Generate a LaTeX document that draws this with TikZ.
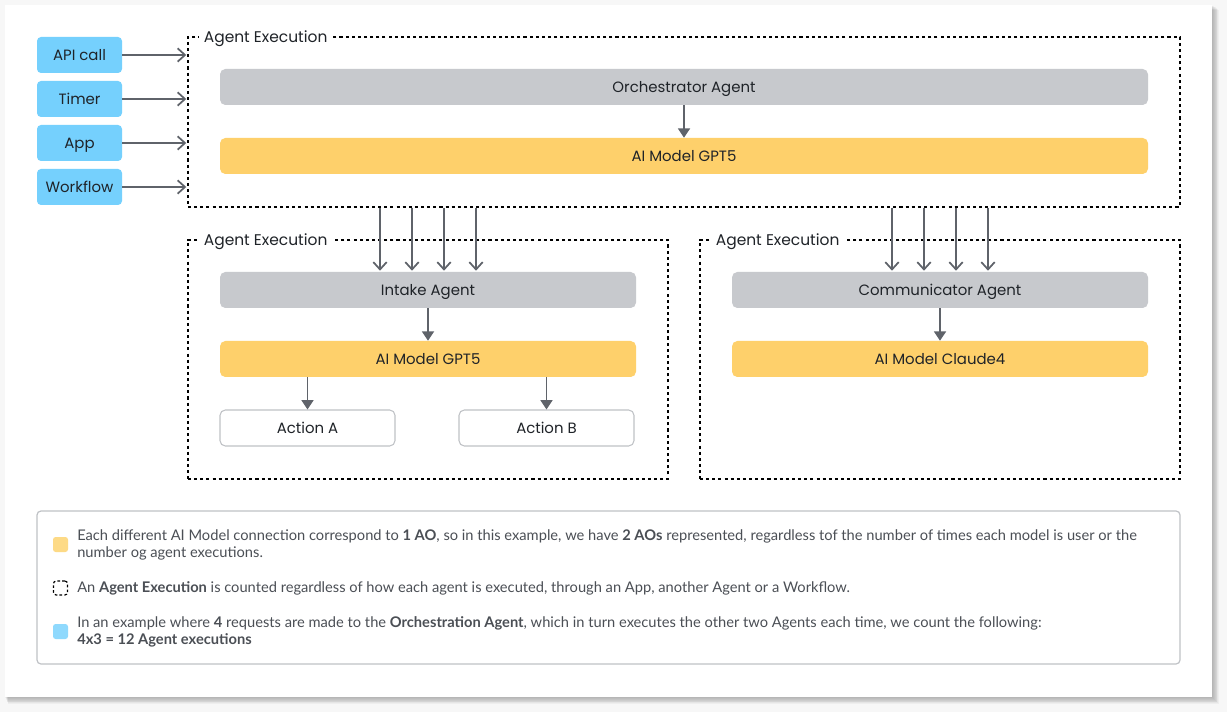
\documentclass[tikz,border=0pt]{standalone}
\usepackage{fontspec}
\setmainfont{Poppins}
\newfontfamily\notefont{Lato}
\usetikzlibrary{arrows.meta,positioning,calc}

\definecolor{srcblue}{HTML}{75D0FD}
\definecolor{agentgray}{HTML}{C7C9CD}
\definecolor{modelyellow}{HTML}{FED06B}
\definecolor{arrowgray}{HTML}{5F636A}
\definecolor{inkgray}{HTML}{1F2328}
\definecolor{notegray}{HTML}{4B4F55}
\definecolor{framegray}{HTML}{BFC2C6}
\definecolor{keyyellow}{HTML}{FDDA86}
\definecolor{keyblue}{HTML}{8FD9FD}

\tikzset{
  srcbox/.style={fill=srcblue, rounded corners=3pt, minimum width=63.75pt, minimum height=27pt, inner sep=0pt, text depth=0pt, text=inkgray, font=\fontsize{11.2}{13}\selectfont},
  agentbar/.style={fill=agentgray, rounded corners=4pt, minimum height=27pt, inner sep=0pt, text depth=0pt, text=inkgray, font=\fontsize{11.2}{13}\selectfont},
  modelbar/.style={agentbar, fill=modelyellow},
  actionbox/.style={agentbar, fill=white, draw=framegray, line width=0.8pt, minimum width=131.25pt},
  execbox/.style={draw=black, line width=1.1pt, dash pattern=on 2.3pt off 2.3pt, inner sep=0pt},
  execlabel/.style={fill=white, inner xsep=4pt, inner ysep=3pt, text depth=0pt, anchor=west, text=inkgray, font=\fontsize{11.6}{13}\selectfont},
  inarrow/.style={draw=arrowgray, line width=1.3pt, -{Straight Barb[length=5.5pt, width=10pt, line width=1.3pt]}},
  callarrow/.style={draw=arrowgray, line width=1.3pt, -{Triangle[length=7pt, width=9pt]}},
  keymark/.style={minimum size=11.25pt, inner sep=0pt, rounded corners=2pt},
  keytext/.style={anchor=west, inner sep=0pt, align=left, text=notegray, font=\notefont\fontsize{11}{12.75}\selectfont}
}

\begin{document}
\begin{tikzpicture}[x=0.75pt, y=-0.75pt]
  \useasboundingbox (0,0) rectangle (1227,712);
  \fill[white!97!black] (0,0) rectangle (1227,712);
  % card with shadow
  \foreach \s in {1,...,8}
    \fill[black, opacity=0.035] (5+\s*0.4,5+\s*0.6) rectangle (1212+\s*0.9,697+\s*0.9);
  \fill[white] (5,5) rectangle (1212,697);

  % triggers
  \node[srcbox] (api) at (79.5,55) {API call};
  \node[srcbox] (timer) at (79.5,99) {Timer};
  \node[srcbox] (app) at (79.5,143) {App};
  \node[srcbox] (workflow) at (79.5,187) {Workflow};

  % agent executions
  \node[execbox, minimum width=744pt, minimum height=127.5pt] (exec0) at (684,122) {};
  \node[execbox, minimum width=360pt, minimum height=179.25pt] (exec1) at (428,359.5) {};
  \node[execbox, minimum width=360pt, minimum height=179.25pt] (exec2) at (940,359.5) {};
  \node[execlabel] (lab0) at ($(exec0.north west)+(11,0)$) {Agent Execution};
  \node[execlabel] (lab1) at ($(exec1.north west)+(11,0)$) {Agent Execution};
  \node[execlabel] (lab2) at ($(exec2.north west)+(11,0)$) {Agent Execution};

  \node[agentbar, minimum width=696pt] (orch) at (684,87) {Orchestrator Agent};
  \node[modelbar, minimum width=696pt] (gpt0) at (684,156) {AI Model GPT5};

  \node[agentbar, minimum width=312pt] (intake) at (428,290) {Intake Agent};
  \node[modelbar, minimum width=312pt] (gpt1) at (428,359) {AI Model GPT5};
  \node[actionbox] (actA) at (307.5,428) {Action A};
  \node[actionbox] (actB) at (546.5,428) {Action B};

  \node[agentbar, minimum width=312pt] (comm) at (940,290) {Communicator Agent};
  \node[modelbar, minimum width=312pt] (claude) at (940,359) {AI Model Claude4};

  % connectors
  \foreach \src in {api,timer,app,workflow}
    \draw[inarrow] (\src.east) -- ($(\src -| exec0.west)+(-1,0)$);
  \foreach \dx in {-48,-16,16,48} {
    \draw[inarrow] ($(exec0.south -| intake.north)+(\dx,0)$) -- ($(intake.north)+(\dx,-1)$);
    \draw[inarrow] ($(exec0.south -| comm.north)+(\dx,0)$) -- ($(comm.north)+(\dx,-1)$);
  }
  \draw[callarrow] (orch) -- (gpt0);
  \draw[callarrow] (intake) -- (gpt1);
  \draw[callarrow] (comm) -- (claude);
  \draw[callarrow] (gpt1.south -| actA.north) -- (actA.north);
  \draw[callarrow] (gpt1.south -| actB.north) -- (actB.north);

  % legend
  \node[draw=framegray, line width=0.9pt, rounded corners=3pt, minimum width=857.25pt, minimum height=114.75pt] (legend) at (608.5,587.5) {};
  \node[keymark, fill=keyyellow] (key1) at (60.5,544.5) {};
  \node[keymark, draw=black, line width=0.9pt, dash pattern=on 2pt off 1.6pt, minimum size=10.5pt] (key2) at (60.5,588) {};
  \node[keymark, fill=keyblue] (key3) at (60.5,631.5) {};
  \node[keytext] (note1) at (77,545) {Each different AI Model connection correspond to \textbf{1 AO}, so in this example, we have \textbf{2 AOs} represented, regardless tof the number of times each model is user or the\\number og agent executions.};
  \node[keytext] (note2) at (77,588.5) {An \textbf{Agent Execution} is counted regardless of how each agent is executed, through an App, another Agent or a Workflow.};
  \node[keytext] (note3) at (77,632) {In an example where \textbf{4} requests are made to the \textbf{Orchestration Agent}, which in turn executes the other two Agents each time, we count the following:\\\textbf{4x3 = 12 Agent executions}};
\end{tikzpicture}
\end{document}
